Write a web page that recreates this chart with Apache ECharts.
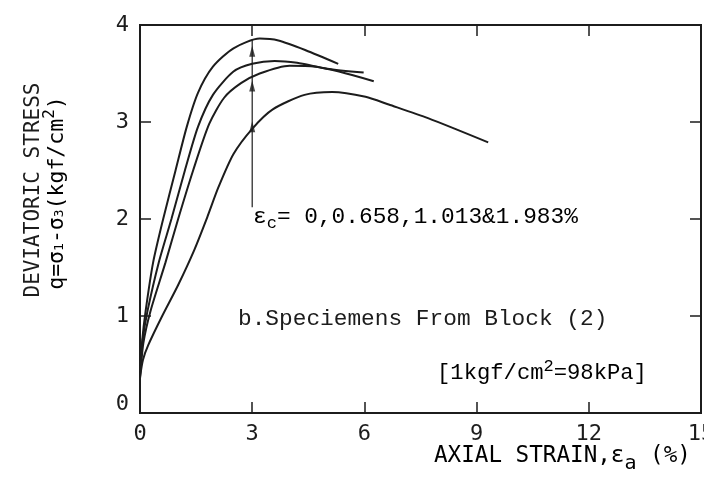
<!DOCTYPE html>
<html>
<head>
<meta charset="utf-8">
<script src="https://cdn.jsdelivr.net/npm/echarts@6/dist/echarts.min.js"></script>
<style>
html,body{margin:0;padding:0;background:#fff;}
#c{width:704px;height:492px;}
</style>
</head>
<body>
<div id="c"></div>
<script>
// ---- data (axial strain %, deviatoric stress kgf/cm2) ----
const strain1 = [0, 0.06, 0.15, 0.35, 0.62, 0.95, 1.25, 1.55, 1.95, 2.50, 3.20, 3.70, 4.43, 5.30];
const q1      = [0.40, 0.75, 1.05, 1.55, 2.00, 2.50, 2.95, 3.30, 3.57, 3.76, 3.86, 3.84, 3.74, 3.60];

const strain2 = [0, 0.07, 0.20, 0.50, 0.84, 1.20, 1.55, 1.95, 2.50, 3.00, 3.60, 4.20, 5.00, 5.98];
const q2      = [0.45, 0.75, 1.05, 1.55, 2.00, 2.50, 2.95, 3.28, 3.52, 3.60, 3.63, 3.61, 3.55, 3.51];

const strain3 = [0, 0.09, 0.28, 0.68, 1.02, 1.42, 1.85, 2.25, 2.70, 3.20, 4.00, 4.70, 5.32, 6.25];
const q3      = [0.35, 0.72, 1.05, 1.55, 2.00, 2.50, 2.98, 3.25, 3.40, 3.50, 3.58, 3.57, 3.52, 3.42];

const strain4 = [0, 0.08, 0.22, 0.58, 1.02, 1.45, 1.80, 2.10, 2.50, 3.00, 3.55, 4.40, 5.14, 6.03, 6.65, 7.70, 9.31];
const q4      = [0.37, 0.55, 0.70, 0.99, 1.32, 1.68, 2.02, 2.33, 2.67, 2.93, 3.13, 3.28, 3.31, 3.26, 3.18, 3.04, 2.79];

// arrow marking consolidation strain annotation
const arrowX = [3, 3];
const arrowY = [2.12, 3.85];
const arrowHeadX = [3, 3, 3];
const arrowHeadY = [3.73, 3.37, 2.95];

const xTicks = [0, 3, 6, 9, 12, 15];
const yTicks = [0, 1, 2, 3, 4];

const annotationEps = ['ε', 'c', '= 0,0.658,1.013&1.983%'];
const annotationBlock = 'b.Speciemens From Block (2)';
const annotationUnit = ['[1kgf/cm', '2', '=98kPa]'];
const yName1 = 'DEVIATORIC STRESS';
const yName2 = ['q=σ', '1', '-σ', '3', '(kgf/cm', '2', ')'];
const xName = ['AXIAL STRAIN,ε', 'a', ' (%)'];

const zip = (xs, ys) => xs.map((x, i) => [x, ys[i]]);
const INK = '#1c1c1c';
const MONO = 'Liberation Mono';
const SANSMONO = 'DejaVu Sans Mono';

const chart = echarts.init(document.getElementById('c'), null, {renderer: 'canvas'});

function curve(name, xs, ys) {
  return {
    name, type: 'line', data: zip(xs, ys), smooth: 0.25, showSymbol: false,
    lineStyle: {color: INK, width: 2}, xAxisIndex: 0, yAxisIndex: 0, z: 3
  };
}

const axisCommon = {
  type: 'value',
  show: true,
  axisLine: {show: true, onZero: false, lineStyle: {color: INK, width: 2}},
  axisTick: {show: true, inside: true, length: 11, lineStyle: {color: INK, width: 1.5}},
  splitLine: {show: false}
};

chart.setOption({
  animation: false,
  backgroundColor: '#fff',
  grid: {
    left: 140, right: 3, top: 25, bottom: 79, containLabel: false, outerBoundsMode: 'none',
    show: true, borderColor: INK, borderWidth: 2, backgroundColor: 'transparent'
  },
  xAxis: [
    Object.assign({}, axisCommon, {
      position: 'bottom', min: xTicks[0], max: xTicks[xTicks.length - 1], interval: 3,
      axisLabel: {color: INK, fontSize: 22, fontFamily: SANSMONO, margin: 10}
    }),
    Object.assign({}, axisCommon, {
      position: 'top', min: xTicks[0], max: xTicks[xTicks.length - 1], interval: 3,
      axisLabel: {show: false}
    })
  ],
  yAxis: [
    Object.assign({}, axisCommon, {
      position: 'left', min: yTicks[0], max: yTicks[yTicks.length - 1], interval: 1,
      axisLabel: {
        color: INK, fontSize: 22, fontFamily: SANSMONO, margin: 11,
        formatter: v => (v === 0 ? '{z|0}' : String(v)),
        rich: {z: {color: INK, fontSize: 22, fontFamily: SANSMONO, padding: [0, 0, 18, 0]}}
      }
    }),
    Object.assign({}, axisCommon, {
      position: 'right', min: yTicks[0], max: yTicks[yTicks.length - 1], interval: 1,
      axisLabel: {show: false}
    })
  ],
  series: [
    curve('c1', strain1, q1),
    curve('c2', strain2, q2),
    curve('c3', strain3, q3),
    curve('c4', strain4, q4),
    {
      name: 'arrow', type: 'line', data: zip(arrowX, arrowY), showSymbol: false,
      lineStyle: {color: INK, width: 1.2}, z: 2
    },
    {
      name: 'arrowheads', type: 'scatter', data: zip(arrowHeadX, arrowHeadY),
      symbol: 'triangle', symbolSize: [6, 11], itemStyle: {color: INK}, z: 4
    },
    {
      name: 'frame', type: 'line', data: [], xAxisIndex: 1, yAxisIndex: 1, showSymbol: false
    }
  ],
  graphic: [
    {
      type: 'text', left: 253, top: 205, z: 10,
      style: {
        text: '{e|' + annotationEps[0] + '}{s|' + annotationEps[1] + '}{t|' + annotationEps[2] + '}',
        rich: {
          e: {fontFamily: MONO, fontSize: 22.8, color: INK},
          s: {fontFamily: MONO, fontSize: 17, color: INK, padding: [14, 0, 0, 0]},
          t: {fontFamily: MONO, fontSize: 22.8, color: INK}
        }
      }
    },
    {
      type: 'text', left: 238, top: 307, z: 10,
      style: {text: annotationBlock, font: '22.8px "' + MONO + '"', fill: INK}
    },
    {
      type: 'text', left: 437, top: 358, z: 10,
      style: {
        text: '{t|' + annotationUnit[0] + '}{p|' + annotationUnit[1] + '}{t|' + annotationUnit[2] + '}',
        rich: {
          t: {fontFamily: MONO, fontSize: 22.2, color: INK},
          p: {fontFamily: MONO, fontSize: 17, color: INK, padding: [0, 0, 14, 0]}
        }
      }
    },
    {
      type: 'text', left: 434, top: 445, z: 10,
      style: {
        text: '{t|' + xName[0] + '}{s|' + xName[1] + '}{t|' + xName[2] + '}',
        rich: {
          t: {fontFamily: SANSMONO, fontSize: 22.6, color: INK},
          s: {fontFamily: SANSMONO, fontSize: 20, color: INK, padding: [14, 0, 0, 0]}
        }
      }
    },
    {
      type: 'text', x: 34, y: 190, rotation: Math.PI / 2, z: 10,
      style: {text: yName1, font: '21px "' + SANSMONO + '"', fill: INK, align: 'center', verticalAlign: 'middle'}
    },
    {
      type: 'text', x: 57, y: 193, rotation: Math.PI / 2, z: 10,
      style: {
        text: '{t|' + yName2[0] + '}{s|' + yName2[1] + '}{t|' + yName2[2] + '}{s|' + yName2[3] + '}{t|' + yName2[4] + '}{p|' + yName2[5] + '}{t|' + yName2[6] + '}',
        align: 'center', verticalAlign: 'middle',
        rich: {
          t: {fontFamily: SANSMONO, fontSize: 21.5, color: INK},
          s: {fontFamily: SANSMONO, fontSize: 13, color: INK, padding: [6, 0, 0, 0]},
          p: {fontFamily: SANSMONO, fontSize: 16, color: INK, padding: [0, 0, 14, 0]}
        }
      }
    }
  ]
});
</script>
</body>
</html>
